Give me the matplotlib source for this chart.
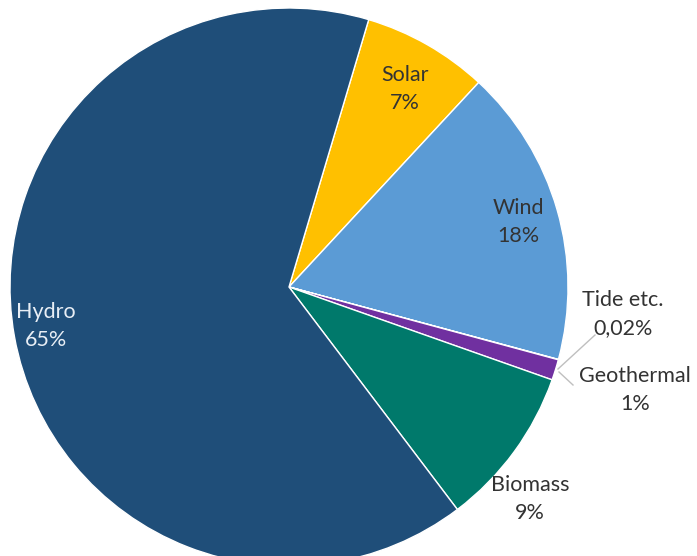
"""Renewable energy share pie chart."""

import matplotlib

matplotlib.use("Agg")
import matplotlib.pyplot as plt

# Slices in clockwise order starting from the top (Solar)
sources = ["Solar", "Wind", "Tide etc.", "Geothermal", "Biomass", "Hydro"]
shares = [7.3, 17.3, 0.02, 1.2, 9.3, 65.0]
share_labels = ["7%", "18%", "0,02%", "1%", "9%", "65%"]
colors = ["#FFC000", "#5B9BD5", "#A5A5A5", "#7030A0", "#00796B", "#1F4E79"]

TEXT_DARK = "#333333"

fig = plt.figure(figsize=(6.97, 5.56), dpi=100)
ax = fig.add_axes([0, 0, 1, 1])

cx, cy, r = 289, 269, 279
ax.pie(
    shares,
    colors=colors,
    startangle=73.4,
    counterclock=False,
    center=(cx, cy),
    radius=r,
    wedgeprops=dict(edgecolor="white", linewidth=1.0),
    frame=True,
)
ax.set_xlim(0, 697)
ax.set_ylim(0, 556)
ax.set_aspect("equal")
ax.axis("off")

font = dict(family=["Lato", "DejaVu Sans"], fontsize=15.5, ha="center", va="center",
            linespacing=1.55)

# label positions in pixel coords (y measured from top)
label_pos = {
    "Solar": (405, 89, TEXT_DARK),
    "Wind": (518, 222, TEXT_DARK),
    "Tide etc.": (623, 314, TEXT_DARK),
    "Geothermal": (635, 390, TEXT_DARK),
    "Biomass": (530, 499, TEXT_DARK),
    "Hydro": (46, 326, "#E8EEF5"),
}
for name, pct in zip(sources, share_labels):
    x, y, c = label_pos[name]
    ax.text(x, 556 - y, f"{name}\n{pct}", color=c, **font)

# leader lines for the thin slices
ax.plot([595, 558], [556 - 335, 556 - 369], color="#BFBFBF", lw=1)
ax.plot([559, 573], [556 - 372, 556 - 385], color="#BFBFBF", lw=1)

fig.savefig("out.png", dpi=100)
